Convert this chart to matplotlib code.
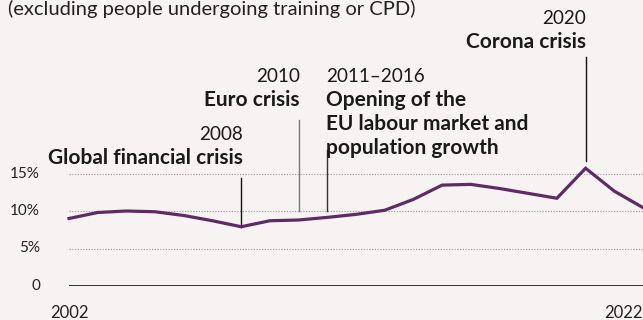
import matplotlib.pyplot as plt
import matplotlib.transforms as mtransforms

# Share of labour force, per year
years = list(range(2002, 2023))
share = [9.0, 9.8, 10.0, 9.9, 9.4, 8.7, 7.9, 8.7, 8.8, 9.15, 9.55, 10.1,
         11.55, 13.45, 13.55, 13.0, 12.35, 11.7, 15.7, 12.65, 10.45]
y_ticks = [0, 5, 10, 15]
y_tick_labels = ['0', '5%', '10%', '15%']

bg = '#f6f3f2'
purple = '#5e2b64'
font = 'Lato'

fig = plt.figure(figsize=(6.43, 3.20), dpi=100, facecolor=bg)
ax = fig.add_axes([69 / 643, 34 / 320, 574 / 643, 150 / 320])
ax.set_facecolor(bg)
ax.set_xlim(2002, 2022)
ax.set_ylim(0, 20)
for s in ax.spines.values():
    s.set_visible(False)
ax.set_xticks([])
ax.set_yticks([])

# gridlines and baseline
for t in y_ticks[1:]:
    ax.axhline(t, color='#a9a5a5', lw=0.9, ls=(0, (1, 1.2)), zorder=1)
ax.axhline(0, color='#111111', lw=1.2, zorder=2)

ax.plot(years, share, color=purple, lw=2.3, solid_joinstyle='miter',
        clip_on=False, zorder=4)

# y tick labels
lab = mtransforms.blended_transform_factory(fig.transFigure, ax.transData)
for t, l in zip(y_ticks, y_tick_labels):
    ax.text(40 / 643, t, l, transform=lab, ha='right', va='center',
            fontsize=11, color='#222222', family=font)

# x end labels
xt = mtransforms.blended_transform_factory(ax.transData, fig.transFigure)
ax.text(2002, 1 - 313 / 320, '2002', transform=xt, ha='center', va='center',
        fontsize=12, color='#222222', family=font)
ax.text(2022, 1 - 313 / 320, '2022', transform=xt, ha='right', va='center',
        fontsize=12, color='#222222', family=font)

fig.text(8 / 643, 1 - 9 / 320, '(excluding people undergoing training or CPD)',
         ha='left', va='center', fontsize=14.5, color='#222222', family=font)

# event markers: (year, line top px, line bottom value, color)
def vline(year, top_px, bottom_val, color):
    top_val = (286 - top_px) / 7.5
    ax.plot([year, year], [bottom_val, top_val], color=color, lw=1.0,
            clip_on=False, zorder=3)

vline(2008, 178, share[6], '#111111')
vline(2010, 120, 10, '#7a7a7a')
vline(2011, 150, 10, '#333333')
vline(2020, 57, 16.7, '#111111')

def note(x, y_px, txt, ha, bold=False):
    fig.text(x / 643, 1 - y_px / 320, txt, ha=ha, va='center',
             fontsize=15 if bold else 13.6,
             color='#1a1a1a', family=font,
             fontweight='bold' if bold else 'normal')

note(586, 18, '2020', 'right')
note(586, 42, 'Corona crisis', 'right', True)
note(300, 76, '2010', 'right')
note(300, 100, 'Euro crisis', 'right', True)
note(326, 76, '2011\u20132016', 'left')
note(326, 100, 'Opening of the', 'left', True)
note(326, 124, 'EU labour market and', 'left', True)
note(326, 148, 'population growth', 'left', True)
note(243, 135, '2008', 'right')
note(243, 158, 'Global financial crisis', 'right', True)

fig.savefig('out.png', dpi=100, facecolor=bg)
